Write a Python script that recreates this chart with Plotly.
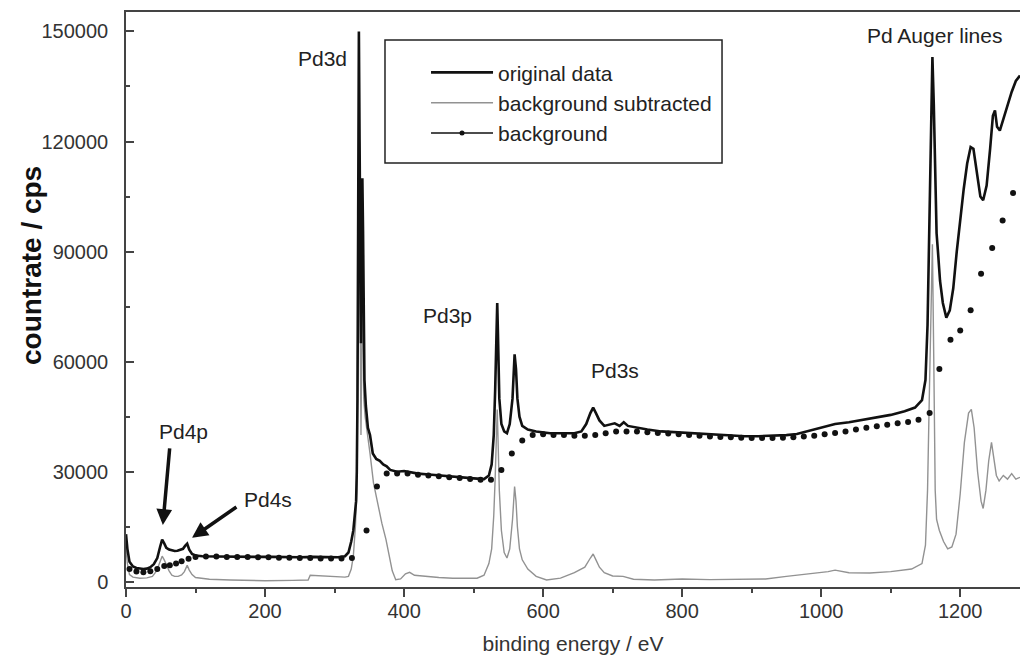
import plotly.graph_objects as go

# ---------------- data ----------------
orig_x = [0, 2, 5, 10, 15, 20, 25, 30, 35, 40, 45, 49, 52, 55, 58, 62, 66, 70, 74, 78, 82, 85, 88, 91, 95,
          100, 110, 130, 150, 170, 190, 210, 230, 250, 270, 290, 305, 315, 320, 324, 327, 329, 331, 332, 333,
          334, 335, 336, 337, 338, 339, 340, 341, 342, 343, 345, 348, 351, 355, 360, 365, 370, 375, 380, 390,
          400, 410, 420, 440, 460, 480, 500, 515, 522, 526, 529, 531, 533, 534, 535, 537, 540, 544, 548, 552,
          556, 559, 561, 563, 566, 570, 578, 590, 610, 630, 645, 655, 662, 668, 672, 676, 681, 688, 695, 703,
          710, 716, 722, 735, 750, 770, 790, 810, 830, 850, 870, 890, 910, 930, 950, 965, 975, 985, 1000,
          1020, 1040, 1060, 1080, 1100, 1120, 1135, 1145, 1150, 1153, 1156, 1158, 1160, 1162, 1164, 1166,
          1168, 1171, 1175, 1180, 1185, 1190, 1195, 1200, 1205, 1210, 1215, 1219, 1224, 1229, 1233, 1238,
          1243, 1247, 1250, 1253, 1257, 1262, 1268, 1274, 1280, 1286]
orig_y = [13000, 9000, 5500, 4200, 3800, 3600, 3500, 3600, 4000, 4800, 6500, 9500, 11500, 10500, 9300, 8800,
          8600, 8400, 8500, 8700, 9000, 9800, 10400, 8800, 7600,
          7200, 7000, 6900, 6800, 6900, 6800, 6800, 6700, 6700, 6800, 6700, 6700, 7000, 8000, 11000, 14000,
          18000, 22000, 30000, 50000,
          100000, 150000, 120000, 80000, 65000, 90000, 110000, 95000, 65000, 55000, 48000, 42000, 40000,
          35000, 33500, 33000, 32000, 31500, 30500, 30000,
          30200, 29800, 29500, 29200, 28800, 28500, 28200, 28000, 29000, 32000, 40000, 52000, 70000, 76000,
          68000, 50000, 43000, 41000, 40500, 43000,
          50000, 62000, 58000, 50000, 45000, 42500, 41500, 41000, 40500, 40500, 40500, 41000, 43000, 46000,
          47500, 46000, 44000, 42500, 42800, 43200,
          42500, 43500, 42500, 42000, 41500, 41000, 40800, 40500, 40300, 40000, 39800, 39700, 39700, 39800,
          40000, 40300, 40800, 41200, 42000,
          43000, 43500, 44200, 44800, 45500, 46500, 47500, 49500, 55000, 70000, 100000, 125000, 143000,
          130000, 110000, 95000,
          90000, 82000, 76000, 72000, 74000, 80000, 90000, 99000, 107000, 114000, 118500, 118000, 111000,
          105000, 104000, 108000,
          118000, 127000, 128500, 124000, 123000, 126000, 130000, 133500, 136500, 138000]

sub_x = [0, 2, 5, 10, 20, 30, 38, 44, 49, 52, 55, 58, 62, 66, 70, 75, 80, 84, 88, 91, 95, 100, 120, 150, 200,
         240, 262, 265, 275, 300, 315, 320, 324, 327, 330, 332, 333, 334, 335, 336, 337, 338, 339, 340, 341,
         342, 344, 347, 351, 356, 362, 368, 374, 379, 383, 388, 395, 402, 408, 415, 430, 450, 470, 490, 505,
         515, 522, 526, 529, 531, 533, 534, 535, 537, 540, 544, 548, 552, 556, 559, 561, 563, 566, 570, 578,
         590, 605, 625, 645, 660, 668, 672, 676, 681, 688, 700, 715, 730, 760, 800, 840, 880, 920, 950, 975,
         990, 1010, 1020, 1040, 1070, 1100, 1130, 1145, 1150, 1153, 1156, 1158, 1160, 1162, 1164, 1166, 1170,
         1176, 1182, 1188, 1194, 1200, 1206, 1212, 1216, 1220, 1225, 1230, 1233, 1237, 1241, 1245, 1248,
         1252, 1256, 1262, 1268, 1274, 1280, 1286]
sub_y = [9000, 5000, 2000, 1300, 1000, 1100, 1500, 3000, 5500, 7000, 6000, 4500, 3000, 1800, 1500, 1500, 1900,
         2800, 4500, 3200, 2000, 1200, 700, 500, 300,
         400, 500, 1800, 1700, 1500, 1300, 1500, 3500, 7000, 15000, 25000, 50000, 90000, 123000, 95000,
         55000, 40000, 60000, 80000, 70000,
         50000, 45000, 40000, 35000, 27000, 21000, 16000, 11500, 6500, 3000, 600, 800, 2200, 2600, 1800,
         1500, 1200, 1000, 900, 1000,
         1800, 5000, 9000, 18000, 28000, 42000, 47000, 40000, 25000, 14000, 8000, 6500, 9000, 17000, 26000,
         22000, 15000, 9000, 6000, 3500,
         1500, 500, 1000, 2500, 4000, 6500, 7600, 6000, 4000, 2500, 1600, 1500, 700, 500, 800, 600, 700, 800,
         1500, 2000,
         2500, 2800, 3200, 2500, 2400, 2800, 3500, 5000, 10000, 25000, 55000, 80000, 92000, 60000, 25000,
         17000, 14000,
         11000, 9000, 9500, 13000, 24000, 38000, 46000, 47000, 42000, 30000, 22000, 20000, 25000, 33000,
         38000, 34000,
         29000, 27500, 29000, 28000, 29500, 28000, 28500]

bg_x = [5, 15, 25, 35, 45, 55, 63, 72, 80, 90, 100, 115, 130, 145, 160, 175, 190, 205, 220, 235, 250, 265,
        280, 295, 310, 325, 346, 361, 375, 390, 405, 420, 435, 450, 465, 480, 495, 510, 525, 540, 555, 570,
        585, 600, 615, 630, 645, 660, 675, 690, 705, 720, 735, 750, 765, 780, 795, 810, 825, 840, 855, 870,
        885, 900, 915, 930, 945, 960, 975, 990, 1005, 1020, 1035, 1050, 1065, 1080, 1095, 1110, 1125, 1140,
        1156, 1170, 1186, 1200, 1215, 1230, 1246, 1261, 1276]
bg_y = [3500, 2800, 2600, 2900, 3500, 4300, 4500, 5000, 5600, 6300, 6800, 6900, 6900, 6800, 6800, 6800, 6700,
        6700, 6600, 6600, 6500, 6500,
        6400, 6400, 6400, 6500, 14000, 26000, 29500, 29500, 29500, 29200, 29000, 28800, 28500, 28300, 28000,
        27800, 27800, 30500, 35000, 38500,
        40000, 40200, 40000, 40000, 39800, 39800, 40000, 40500, 41000, 41000, 41000, 40800, 40600, 40400,
        40200, 40000, 39800, 39600, 39500, 39400,
        39300, 39200, 39200, 39200, 39300, 39400, 39600, 39800, 40200, 40600, 41000, 41500, 42000, 42400,
        42800, 43200, 43600, 44200,
        46000, 58000, 66000, 68500, 74000, 84000, 91000, 98500, 106000]

x_ticks = [0, 200, 400, 600, 800, 1000, 1200]
y_ticks = [0, 30000, 60000, 90000, 120000, 150000]

labels = ["Pd3d", "Pd Auger lines", "Pd3p", "Pd3s", "Pd4p", "Pd4s"]
label_x = [283, 1163, 463, 703, 82, 204]
label_y = [142500, 148800, 72500, 57500, 40900, 22400]

# ---------------- figure ----------------
FONT = "Liberation Sans, Arial, sans-serif"
fig = go.Figure()

fig.add_trace(go.Scatter(x=sub_x, y=sub_y, mode="lines", name="background subtracted",
                         line=dict(color="#929292", width=1.4), legendrank=2))
fig.add_trace(go.Scatter(x=orig_x, y=orig_y, mode="lines", name="original data",
                         line=dict(color="#111111", width=2.6), legendrank=1))
fig.add_trace(go.Scatter(x=bg_x, y=bg_y, mode="markers", name="background", showlegend=False,
                         marker=dict(color="#111111", size=6)))
fig.add_trace(go.Scatter(x=[None], y=[None], mode="lines+markers", name="background",
                         line=dict(color="#111111", width=1.5),
                         marker=dict(color="#111111", size=5), legendrank=3))

for t, lx, ly in zip(labels, label_x, label_y):
    fig.add_annotation(x=lx, y=ly, text=t, showarrow=False,
                       font=dict(family=FONT, size=21, color="#222"))

# arrows for Pd4p and Pd4s
fig.add_annotation(x=53, y=15500, ax=63, ay=36800, axref="x", ayref="y", text="",
                   showarrow=True, arrowhead=2, arrowsize=0.9, arrowwidth=3.5, arrowcolor="#111")
fig.add_annotation(x=95, y=12000, ax=161, ay=20700, axref="x", ayref="y", text="",
                   showarrow=True, arrowhead=2, arrowsize=0.9, arrowwidth=3.5, arrowcolor="#111")

# y title as rotated annotation
fig.add_annotation(xref="paper", yref="paper", x=-0.1063, y=0.56, xanchor="center", yanchor="middle",
                   text="<b>countrate / cps</b>", textangle=-90, showarrow=False,
                   font=dict(family=FONT, size=28, color="#111"))

# legend frame
fig.add_shape(type="rect", xref="paper", yref="paper", x0=0.2897, x1=0.6667, y0=0.7374, y1=0.9513,
              line=dict(color="#222", width=1.5), fillcolor="rgba(0,0,0,0)")

fig.update_layout(
    width=1020, height=657,
    margin=dict(l=126, r=0, t=12, b=70),
    paper_bgcolor="white", plot_bgcolor="white",
    font=dict(family=FONT, size=21, color="#333"),
    showlegend=True,
    legend=dict(x=0.3356, y=0.93, xanchor="left", yanchor="top", bgcolor="rgba(0,0,0,0)",
                itemwidth=62,
                borderwidth=0, font=dict(family=FONT, size=21, color="#222"), traceorder="normal"),
    xaxis=dict(range=[0, 1286], tickvals=x_ticks, showgrid=False, zeroline=False,
               showline=True, linecolor="#444", linewidth=1.5, mirror=True,
               ticks="outside", ticklen=8, tickcolor="#444", tickwidth=1.5,
               minor=dict(dtick=100, ticks="outside", ticklen=4, tickcolor="#444"),
               ticklabelstandoff=-3,
               tickfont=dict(family=FONT, size=20, color="#333"),
               title=dict(text="binding energy / eV", standoff=16,
                          font=dict(family=FONT, size=21, color="#333"))),
    yaxis=dict(range=[-1400, 155300], tickvals=y_ticks, tickformat="d", showgrid=False, zeroline=False,
               showline=True, linecolor="#444", linewidth=1.5,
               ticks="inside", ticklen=8, tickcolor="#444", tickwidth=1.5,
               minor=dict(dtick=15000, ticks="inside", ticklen=4, tickcolor="#444"),
               ticklabelstandoff=12,
               tickfont=dict(family=FONT, size=20, color="#333")),
)

fig.write_html("out.html")
